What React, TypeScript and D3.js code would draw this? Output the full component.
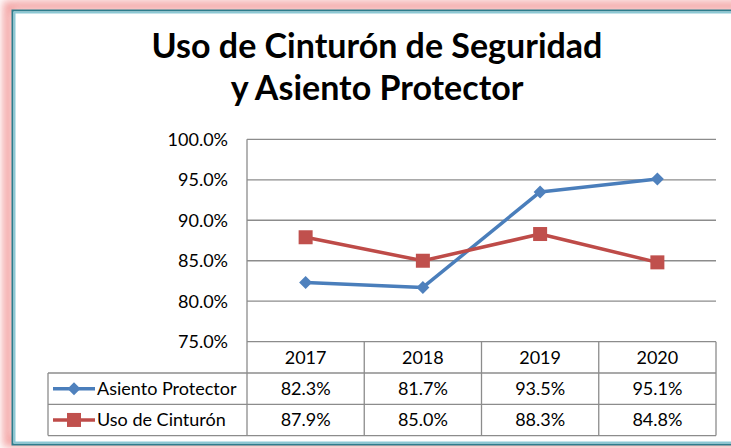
import React from 'react';
import * as d3 from 'd3';

// chart data
const years = ['2017', '2018', '2019', '2020'];
const asientoProtector = [0.823, 0.817, 0.935, 0.951];
const usoCinturon = [0.879, 0.85, 0.883, 0.848];
const yTicks = [0.75, 0.8, 0.85, 0.9, 0.95, 1.0];
const seriesNames = ['Asiento Protector', 'Uso de Cinturón'];
const titleLines = ['Uso de Cinturón de Seguridad', 'y Asiento Protector'];

const W = 731;
const H = 448;
const FONT = 'Lato, "Open Sans", sans-serif';
const BLUE = '#4A7EBB';
const BLUE_MARK = '#4F81BD';
const RED = '#BE4B48';
const RED_MARK = '#C0504D';
const GRID = '#8C8C8C';

const plot = { left: 247, right: 716, top: 139.3, bottom: 341.7 };
const rowH = 31.3;
const tableLeft = 48;

const App: React.FC = () => {
  const x = d3.scaleBand<string>().domain(years).range([plot.left, plot.right]).padding(0);
  const y = d3.scaleLinear().domain([0.75, 1.0]).range([plot.bottom, plot.top]);
  const cx = (yr: string) => (x(yr) ?? 0) + x.bandwidth() / 2;
  const fmt = d3.format('.1%');

  const line = d3.line<number>()
    .x((_, i) => cx(years[i]))
    .y(d => y(d));

  const series = [
    { name: seriesNames[0], values: asientoProtector, color: BLUE, mark: BLUE_MARK, shape: 'diamond' },
    { name: seriesNames[1], values: usoCinturon, color: RED, mark: RED_MARK, shape: 'square' },
  ];

  const marker = (shape: string, px: number, py: number, fill: string, key: string) =>
    shape === 'diamond' ? (
      <path key={key} d={`M${px},${py - 6.5} L${px + 6.5},${py} L${px},${py + 6.5} L${px - 6.5},${py} Z`} fill={fill} />
    ) : (
      <rect key={key} x={px - 7} y={py - 7} width={14} height={14} fill={fill} />
    );

  const tableBottom = plot.bottom + rowH * 3;

  return (
    <svg width={W} height={H} style={{ position: 'absolute', left: 0, top: 0, background: '#fff' }}>
      <defs>
        <filter id="glow" x="-10%" y="-10%" width="120%" height="120%">
          <feGaussianBlur stdDeviation="4" />
        </filter>
      </defs>

      {/* frame */}
      <rect x={8} y={6} width={W + 20} height={H - 12} fill="none" stroke="#F08C8C" strokeWidth={10} filter="url(#glow)" opacity={0.8} />
      <rect x={12.5} y={10.5} width={W + 20} height={H - 14} fill="#fff" stroke="#2E7D8C" strokeWidth={2} />
      <rect x={14.5} y={12.5} width={W + 20} height={H - 18} fill="none" stroke="#8CC8D4" strokeWidth={2} />

      {/* title */}
      {titleLines.map((t, i) => (
        <text key={t} x={377} y={58 + i * 42} textAnchor="middle" fontFamily={FONT} fontWeight="bold" fontSize={34} fill="#000">
          {t}
        </text>
      ))}

      {/* gridlines and y labels */}
      {yTicks.map(t => (
        <g key={t}>
          {t > 0.75 && <line x1={plot.left} x2={plot.right} y1={y(t)} y2={y(t)} stroke={GRID} strokeWidth={1.3} />}
          <text x={228} y={y(t)} dy="0.35em" textAnchor="end" fontFamily={FONT} fontSize={18} fill="#000">
            {fmt(t)}
          </text>
        </g>
      ))}

      {/* table grid */}
      <line x1={plot.left} x2={plot.left} y1={plot.top} y2={tableBottom} stroke={GRID} strokeWidth={1.3} />
      <line x1={plot.left} x2={plot.right} y1={plot.bottom} y2={plot.bottom} stroke={GRID} strokeWidth={1.3} />
      {[1, 2, 3].map(r => (
        <line key={r} x1={tableLeft} x2={plot.right} y1={plot.bottom + rowH * r} y2={plot.bottom + rowH * r} stroke={GRID} strokeWidth={1.3} />
      ))}
      <line x1={tableLeft} x2={tableLeft} y1={plot.bottom + rowH} y2={tableBottom} stroke={GRID} strokeWidth={1.3} />
      {years.map(yr => (
        <line key={yr} x1={(x(yr) ?? 0) + x.bandwidth()} x2={(x(yr) ?? 0) + x.bandwidth()} y1={plot.bottom} y2={tableBottom} stroke={GRID} strokeWidth={1.3} />
      ))}

      {/* year headers */}
      {years.map(yr => (
        <text key={yr} x={cx(yr)} y={plot.bottom + rowH / 2} dy="0.35em" textAnchor="middle" fontFamily={FONT} fontSize={18} fill="#000">
          {yr}
        </text>
      ))}

      {/* series rows */}
      {series.map((s, si) => {
        const ry = plot.bottom + rowH * (si + 1) + rowH / 2;
        return (
          <g key={s.name}>
            <line x1={53} x2={95} y1={ry} y2={ry} stroke={s.color} strokeWidth={3.5} />
            {marker(s.shape, 74, ry, s.mark, 'k' + si)}
            <text x={97} y={ry} dy="0.35em" fontFamily={FONT} fontSize={18} fill="#000">{s.name}</text>
            {s.values.map((v, i) => (
              <text key={i} x={cx(years[i])} y={ry} dy="0.35em" textAnchor="middle" fontFamily={FONT} fontSize={18} fill="#000">
                {fmt(v)}
              </text>
            ))}
          </g>
        );
      })}

      {/* lines */}
      {series.map(s => (
        <g key={s.name + 'line'}>
          <path d={line(s.values) ?? ''} fill="none" stroke={s.color} strokeWidth={3.5} strokeLinejoin="round" />
          {s.values.map((v, i) => marker(s.shape, cx(years[i]), y(v), s.mark, s.name + i))}
        </g>
      ))}
    </svg>
  );
};

export default App;
